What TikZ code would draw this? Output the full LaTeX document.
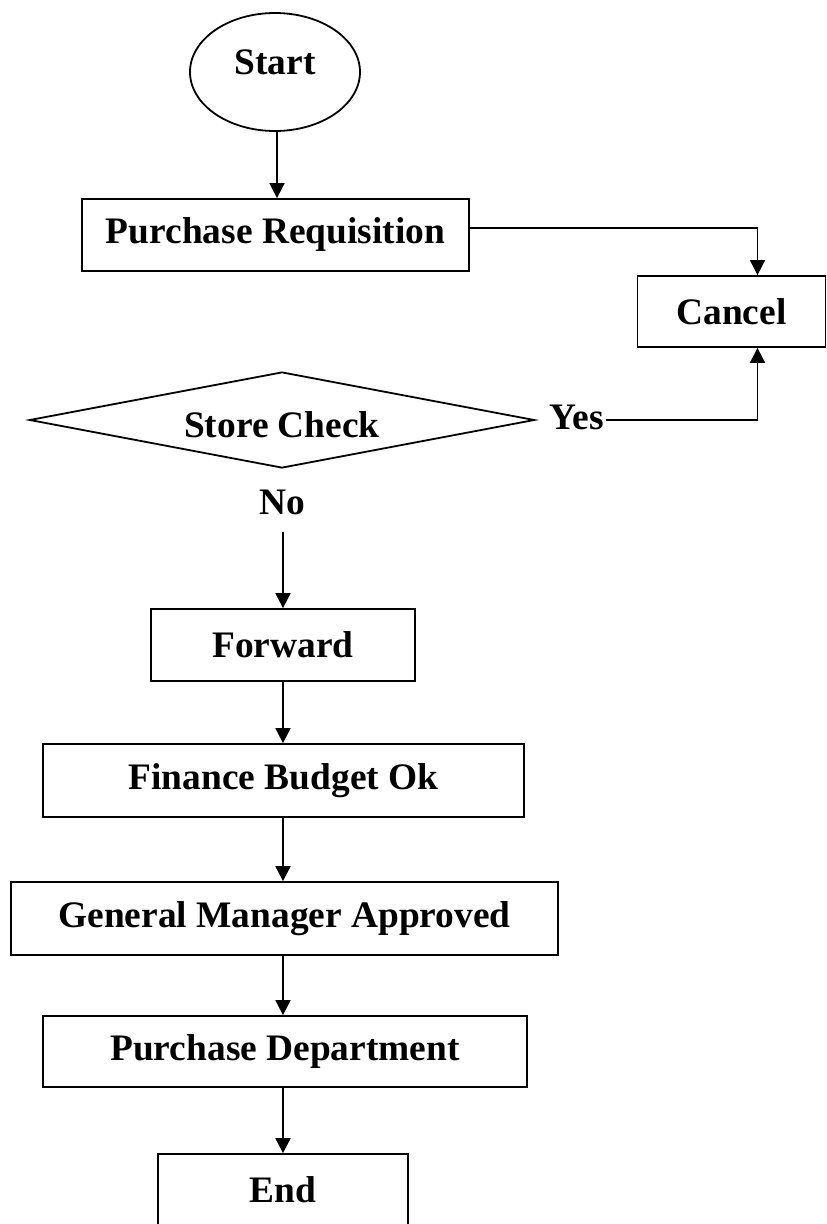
\documentclass[tikz,border=0pt]{standalone}
\usepackage{fontspec}
\setmainfont{Liberation Serif}
\usetikzlibrary{shapes.geometric,arrows.meta}
\begin{document}
\begin{tikzpicture}[x=1pt,y=-1pt,
  every node/.style={font=\fontsize{37.4}{45}\selectfont\bfseries},
  box/.style={draw, line width=1.8pt, rectangle, inner sep=0pt},
  arr/.style={line width=1.8pt, -{Triangle[width=15pt,length=15pt]}}]
\useasboundingbox (0,0) rectangle (827,1224);
\node[box, ellipse, minimum width=170pt, minimum height=118pt, text depth=20pt] (start) at (275,72) {Start};
\node[box, minimum width=387pt, minimum height=72pt] (pr) at (275.5,235) {Purchase Requisition};
\node[box, minimum width=188pt, minimum height=71pt] (cancel) at (731.5,311.5) {Cancel};
\node[box, diamond, aspect=5.26, minimum width=505pt, minimum height=96pt, text height=35pt] (check) at (282,420) {Store Check};
\node[inner sep=2pt] (yes) at (577,417) {Yes};
\node[inner sep=0pt] (no) at (282,502) {No};
\node[box, minimum width=264pt, minimum height=72pt] (fwd) at (283,645) {Forward};
\node[box, minimum width=481pt, minimum height=73pt] (fin) at (283.5,780.5) {Finance Budget Ok};
\node[box, minimum width=547pt, minimum height=73pt] (gm) at (284.5,918.5) {General Manager Approved};
\node[box, minimum width=484pt, minimum height=71pt] (pd) at (285,1051.5) {Purchase Department};
\node[box, minimum width=250pt, minimum height=72pt] (end) at (283,1190) {End};
\coordinate (axis) at (283,0);
\draw[arr] ([xshift=2pt]start.south) -- ([xshift=2pt]start.south |- pr.north);
\draw[arr] ([yshift=7pt]pr.east) -| ([xshift=26pt]cancel.north);
\draw[arr] ([yshift=-3pt]yes.east) -| ([xshift=26pt]cancel.south);
\draw[arr, shorten <=17pt] (no.south -| axis) -- (fwd.north -| axis);
\draw[arr] (fwd.south -| axis) -- (fin.north -| axis);
\draw[arr] (fin.south -| axis) -- (gm.north -| axis);
\draw[arr] (gm.south -| axis) -- (pd.north -| axis);
\draw[arr] (pd.south -| axis) -- (end.north -| axis);
\end{tikzpicture}
\end{document}
